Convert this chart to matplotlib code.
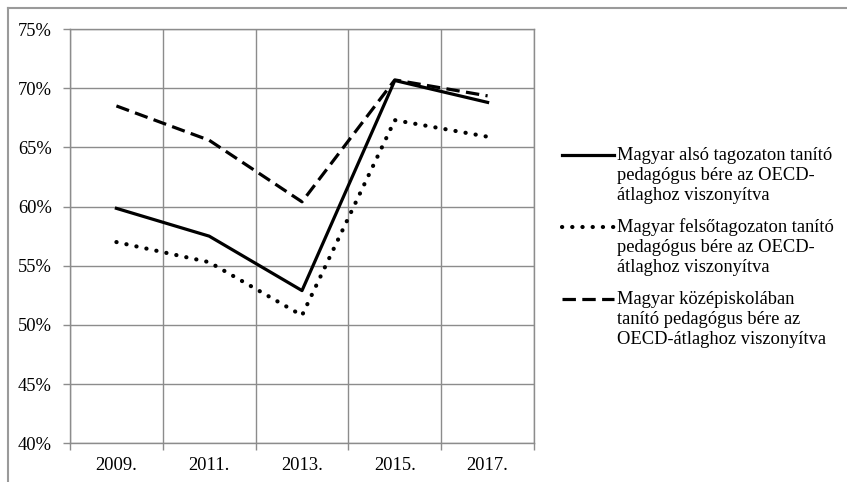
import numpy as np
from matplotlib import pyplot as plt
from matplotlib.lines import Line2D
from matplotlib.ticker import FixedLocator, PercentFormatter

# Adatok
years = ["2009.", "2011.", "2013.", "2015.", "2017."]
also_tagozat = [59.85, 57.5, 52.9, 70.65, 68.8]
felso_tagozat = [57.0, 55.3, 50.8, 67.3, 65.9]
kozepiskola = [68.5, 65.6, 60.4, 70.7, 69.35]

labels = [
    ["Magyar alsó tagozaton tanító", "pedagógus bére az OECD-", "átlaghoz viszonyítva"],
    ["Magyar felsőtagozaton tanító", "pedagógus bére az OECD-", "átlaghoz viszonyítva"],
    ["Magyar középiskolában", "tanító pedagógus bére az", "OECD-átlaghoz viszonyítva"],
]

plt.rcParams['font.family'] = ['Liberation Serif', 'DejaVu Serif']
plt.rcParams['font.size'] = 13.3

fig = plt.figure(figsize=(8.47, 4.82), dpi=100)
ax = fig.add_axes([70 / 847, 1 - 443.3 / 482, 464 / 847, (443.3 - 29) / 482])

solid = dict(linestyle='-', lw=2.3)
dotted = dict(linestyle=(0, (0.05, 2.4)), lw=3.0, dash_capstyle='round')
dashed = dict(linestyle=(0, (4.2, 2.0)), lw=2.3)

x = np.arange(len(years))
ax.plot(x, also_tagozat, color='black', **solid)
ax.plot(x, felso_tagozat, color='black', **dotted)
ax.plot(x, kozepiskola, color='black', **dashed)

ax.set_xlim(-0.5, len(years) - 0.5)
ax.set_ylim(40, 75)
ax.set_yticks(np.arange(40, 76, 5))
ax.yaxis.set_major_formatter(PercentFormatter(decimals=0))

# x tengely: vonalak a kategóriák határán, feliratok középen
ax.xaxis.set_major_locator(FixedLocator(np.arange(-0.5, len(years), 1.0)))
ax.xaxis.set_minor_locator(FixedLocator(x))
ax.set_xticklabels([])
ax.set_xticklabels(years, minor=True)
ax.tick_params(axis='x', which='major', length=5, color='#8c8c8c', width=1)
ax.tick_params(axis='x', which='minor', length=0, pad=10)
ax.tick_params(axis='y', length=5, color='#8c8c8c', width=1, pad=8)

ax.grid(True, which='major', color='#8c8c8c', lw=1)
for s in ax.spines.values():
    s.set_color('#8c8c8c')
    s.set_linewidth(1)

# Jelmagyarázat (a vonal az első szövegsorhoz igazítva)
line_step = 20.5
entry_step = 72
y0 = 155
for i, (lines, st) in enumerate(zip(labels, [solid, dotted, dashed])):
    ytop = y0 + i * entry_step
    yf = 1 - ytop / 482
    fig.add_artist(Line2D([562 / 847, 614 / 847], [yf, yf], color='black', **st))
    for k, txt in enumerate(lines):
        fig.text(617 / 847, 1 - (ytop + k * line_step) / 482, txt, va='center', ha='left')

# Külső keret
fig.add_artist(Line2D([8 / 847, 1], [1 - 8 / 482, 1 - 8 / 482], color='#9a9a9a', lw=1.5))
fig.add_artist(Line2D([8 / 847, 8 / 847], [0, 1 - 8 / 482], color='#9a9a9a', lw=1.5))

plt.savefig("out.png", dpi=100)
